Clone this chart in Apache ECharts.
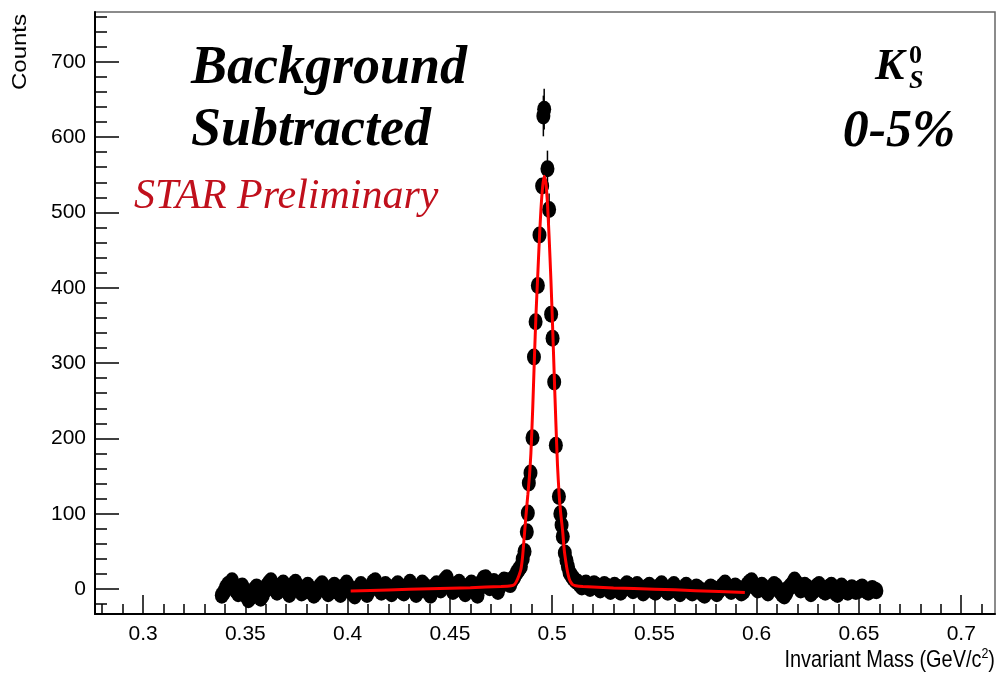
<!DOCTYPE html>
<html>
<head>
<meta charset="utf-8">
<title>K0s invariant mass</title>
<script src="https://cdn.jsdelivr.net/npm/echarts@6/dist/echarts.min.js"></script>
<style>
  html, body { margin: 0; padding: 0; background: #fff; }
  #chart { width: 997px; height: 674px; }
</style>
</head>
<body>
<div id="chart"></div>
<script>
// axis ticks
const xTicks = [0.3, 0.35, 0.4, 0.45, 0.5, 0.55, 0.6, 0.65, 0.7]
const xMinorTicks = [0.28, 0.29, 0.31, 0.32, 0.33, 0.34, 0.36, 0.37, 0.38, 0.39, 0.41, 0.42, 0.43, 0.44,
  0.46, 0.47, 0.48, 0.49, 0.51, 0.52, 0.53, 0.54, 0.56, 0.57, 0.58, 0.59, 0.61, 0.62, 0.63, 0.64,
  0.66, 0.67, 0.68, 0.69, 0.71]
const yTicks = [0, 100, 200, 300, 400, 500, 600, 700]
const yMinorTicks = [-20, 20, 40, 60, 80, 120, 140, 160, 180, 220, 240, 260, 280, 320, 340, 360, 380,
  420, 440, 460, 480, 520, 540, 560, 580, 620, 640, 660, 680, 720, 740, 760]

// histogram bins: left sideband (first bin centre, width 0.001)
const leftStart = 0.3385
const binWidth = 0.001
const leftCounts = [
  -8, -4, 2, 6, 3, 11, 5, -2, -6, 1,
  4, -3, -9, -14, -11, -6, 0, 3, -5, -12,
  -8, -2, 4, 8, 11, 6, 0, -4, 2, 5,
  8, 3, -3, -7, -2, 6, 9, 4, -1, -5,
  -3, 2, 5, 1, -4, -8, -5, 0, 4, 7,
  3, -2, -6, -3, 1, 5, 2, -4, -7, -2,
  4, 8, 3, -1, -6, -9, -4, 2, 6, 1,
  -3, -7, -2, 4, 9, 11, 5, 0, -4, 2,
  6, 3, -2, -6, -1, 4, 7, 2, -3, -5,
  0, 5, 9, 4, -2, -7, -3, 3, 8, 5,
  1, -4, -8, -2, 4, 7, 3, -1, 6, 12,
  15, 8, 2, -3, 1, 6, 9, 4, -2, -6,
  0, 5, 8, 3, -4, -8, 2, 9, 14, 15,
  8, 2, 6, 10, 5, -3, 4, 9, 12, 8,
  11, 6
]

// peak region: [mass, counts]
const peakPoints = [
  [0.4805, 12], [0.4815, 16], [0.4827, 22], [0.4837, 26], [0.4847, 30], [0.4856, 40],
  [0.4865, 50], [0.4876, 76], [0.4881, 101], [0.4886, 141], [0.4894, 154], [0.4904, 201],
  [0.4911, 308], [0.4919, 355], [0.4930, 403], [0.4938, 470], [0.4951, 535], [0.4957, 628],
  [0.4961, 637], [0.4977, 558], [0.4985, 504], [0.4995, 365], [0.5002, 333], [0.5010, 275],
  [0.5018, 191], [0.5033, 123], [0.5040, 100], [0.5046, 85], [0.5052, 70], [0.5062, 48],
  [0.5070, 38], [0.5077, 30], [0.5085, 22], [0.5094, 18], [0.5104, 14], [0.5114, 11]
]
const peakErrors = [
  8, 8, 8, 8, 8, 8,
  8, 8, 8, 9, 9, 9,
  10, 10, 10, 10, 10, 27,
  27, 24, 21, 10, 10, 9,
  9, 9, 8, 8, 8, 8,
  8, 8, 8, 8, 8, 8
]

// right sideband
const rightStart = 0.5125
const rightCounts = [
  9, 6, 3, 5, 8, 4, 1, 3, 7, 5,
  2, -1, 3, 6, 4, 0, -3, 2, 5, 3,
  -1, -4, 0, 4, 7, 5, 1, -2, 2, 6,
  3, -1, -5, -2, 3, 5, 2, -2, -4, 1,
  4, 7, 3, -1, -4, 0, 3, 6, 2, -3,
  -6, -2, 2, 5, 1, -3, -5, -1, 3, 1,
  -2, -6, -8, -4, 0, 3, 1, -3, -6, -2,
  2, 5, 8, 4, 0, -3, 1, 4, 2, -2,
  -5, -3, 2, 6, 9, 11, 6, 2, -1, 3,
  5, 2, -2, -5, -1, 3, 6, 4, 0, -3,
  -7, -9, -5, 1, 4, 7, 12, 8, 3, -1,
  2, 5, 3, -2, -6, -3, 1, 4, 6, 2,
  -2, -4, 0, 3, 5, 1, -5, -7, -3, 4,
  1, -2, -4, -1, 2, 0, -3, -2, 1, 3,
  0, -2, -4, -1, 1, -1, -2
]

// fit curve: [mass, counts]
const fitCurve = [
  [0.4015, -2.5], [0.4200, -1], [0.4400, 0.5], [0.4600, 2], [0.4750, 3.5], [0.4800, 4.5],
  [0.4815, 6], [0.4825, 10], [0.4835, 16], [0.4847, 26], [0.4855, 42], [0.4863, 68],
  [0.4872, 98], [0.4881, 125], [0.4889, 150], [0.4896, 180], [0.4905, 240], [0.4913, 305],
  [0.4921, 365], [0.4929, 413], [0.4937, 462], [0.4945, 503], [0.4953, 533], [0.4961, 548],
  [0.4969, 540], [0.4977, 512], [0.4985, 468], [0.4994, 410], [0.5002, 350], [0.5010, 285],
  [0.5018, 222], [0.5026, 165], [0.5034, 126], [0.5042, 100], [0.5051, 78], [0.5059, 52],
  [0.5067, 36], [0.5075, 23], [0.5083, 14], [0.5091, 9], [0.5100, 6], [0.5115, 4.5],
  [0.5150, 3.5], [0.5300, 1.5], [0.5500, 0], [0.5700, -2], [0.5942, -4.5]
]

const xMin = 0.2765
const xMax = 0.7165
const yMin = -33
const yMax = 766

const points = []
leftCounts.forEach((c, i) => points.push([leftStart + i * binWidth, c]))
peakPoints.forEach(p => points.push(p))
rightCounts.forEach((c, i) => points.push([rightStart + i * binWidth, c]))

const errBars = peakPoints.map((p, i) => [p[0], p[1] - peakErrors[i], p[1] + peakErrors[i]])

const labelFont = { fontFamily: 'Liberation Sans', fontSize: 21, color: '#000' }

const chart = echarts.init(document.getElementById('chart'))
chart.setOption({
  animation: false,
  backgroundColor: '#fff',
  grid: {
    left: 95, right: 2, top: 12, bottom: 60,
    show: true, borderColor: '#666', borderWidth: 1.5,
    outerBoundsMode: 'none'
  },
  xAxis: [
    {
      type: 'value', min: xMin, max: xMax,
      axisLine: { show: true, onZero: false, lineStyle: { color: '#000', width: 2 } },
      axisTick: { show: true, inside: true, length: 19, customValues: xTicks, lineStyle: { color: '#000', width: 1.5 } },
      axisLabel: { ...labelFont, margin: 10, customValues: xTicks, formatter: v => String(v) },
      splitLine: { show: false }
    },
    {
      type: 'value', min: xMin, max: xMax, position: 'bottom',
      axisLine: { show: false, onZero: false },
      axisTick: { show: true, inside: true, length: 10, customValues: xMinorTicks, lineStyle: { color: '#000', width: 1.5 } },
      axisLabel: { show: false },
      splitLine: { show: false }
    }
  ],
  yAxis: [
    {
      type: 'value', min: yMin, max: yMax,
      axisLine: { show: true, onZero: false, lineStyle: { color: '#000', width: 2 } },
      axisTick: { show: true, inside: true, length: 24, customValues: yTicks, lineStyle: { color: '#000', width: 1.5 } },
      axisLabel: { ...labelFont, margin: 9, customValues: yTicks },
      splitLine: { show: false }
    },
    {
      type: 'value', min: yMin, max: yMax, position: 'left',
      axisLine: { show: false, onZero: false },
      axisTick: { show: true, inside: true, length: 12, customValues: yMinorTicks, lineStyle: { color: '#000', width: 1.5 } },
      axisLabel: { show: false },
      splitLine: { show: false }
    }
  ],
  graphic: [
    { type: 'text', x: 20, y: 52, rotation: Math.PI / 2, scaleY: 0.85,
      style: { text: 'Counts', font: '24px "Liberation Sans"', fill: '#000', align: 'center', verticalAlign: 'middle' } },
    { type: 'text', x: 995, y: 660, scaleX: 0.83,
      style: {
        text: 'Invariant Mass (GeV/c{sup|2})', align: 'right', verticalAlign: 'middle',
        font: '24px "Liberation Sans"', fill: '#000',
        rich: { sup: { fontSize: 15, fontFamily: 'Liberation Sans', verticalAlign: 'top', padding: [0, 0, 12, 0] } }
      } },
    { type: 'text', x: 191, y: 69,
      style: { text: 'Background', font: 'italic bold 54px "Liberation Serif"', fill: '#000', verticalAlign: 'middle' } },
    { type: 'text', x: 191, y: 131,
      style: { text: 'Subtracted', font: 'italic bold 54px "Liberation Serif"', fill: '#000', verticalAlign: 'middle' } },
    { type: 'text', x: 134, y: 197,
      style: { text: 'STAR Preliminary', font: 'italic 42px "Liberation Serif"', fill: '#c0101c', verticalAlign: 'middle' } },
    { type: 'text', x: 875, y: 68,
      style: { text: 'K', font: 'italic bold 44px "Liberation Serif"', fill: '#000', verticalAlign: 'middle' } },
    { type: 'text', x: 909, y: 56,
      style: { text: '0', font: 'bold 26px "Liberation Serif"', fill: '#000', verticalAlign: 'middle' } },
    { type: 'text', x: 909, y: 81,
      style: { text: 'S', font: 'italic bold 26px "Liberation Serif"', fill: '#000', verticalAlign: 'middle' } },
    { type: 'text', x: 899, y: 133,
      style: { text: '0-5%', font: 'italic bold 52px "Liberation Serif"', fill: '#000', align: 'center', verticalAlign: 'middle' } }
  ],
  series: [
    {
      type: 'custom',
      data: errBars,
      z: 3,
      renderItem: (params, api) => {
        const lo = api.coord([api.value(0), api.value(1)])
        const hi = api.coord([api.value(0), api.value(2)])
        return {
          type: 'line',
          shape: { x1: lo[0], y1: lo[1], x2: hi[0], y2: hi[1] },
          style: { stroke: '#000', lineWidth: 1.5 }
        }
      }
    },
    {
      type: 'scatter',
      data: points,
      symbol: 'circle',
      symbolSize: [14, 17],
      itemStyle: { color: '#000', opacity: 1 },
      z: 4
    },
    {
      type: 'line',
      data: fitCurve,
      symbol: 'none',
      smooth: 0.2,
      lineStyle: { color: '#ff0000', width: 3 },
      z: 5
    }
  ]
})
</script>
</body>
</html>
